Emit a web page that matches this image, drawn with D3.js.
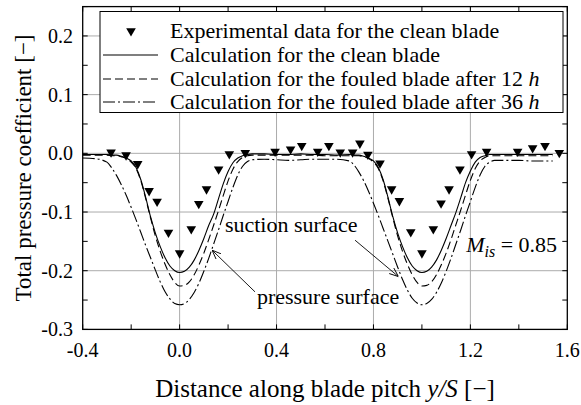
<!DOCTYPE html>
<html>
<head>
<meta charset="utf-8">
<script src="https://cdn.jsdelivr.net/npm/d3@7"></script>
<style>
  body { margin: 0; background: #fff; }
  svg text { font-family: "Liberation Serif", "Times New Roman", serif; fill: #000; }
  .grid { stroke: #ababab; stroke-width: 1; }
  .tick { stroke: #000; stroke-width: 1; }
  .frame { fill: none; stroke: #000; stroke-width: 1.3; }
  .curve { fill: none; stroke: #000; stroke-width: 1.1; }
</style>
</head>
<body>
<svg id="chart" width="581" height="405"></svg>
<script>
// tick values
var xTicks = [-0.4, 0.0, 0.4, 0.8, 1.2, 1.6];
var xMinor = [-0.4, -0.2, 0.0, 0.2, 0.4, 0.6, 0.8, 1.0, 1.2, 1.4, 1.6];
var yTicks = [-0.3, -0.2, -0.1, 0.0, 0.1, 0.2];
var yMinor = [-0.3, -0.25, -0.2, -0.15, -0.1, -0.05, 0.0, 0.05, 0.1, 0.15, 0.2, 0.25];

// experimental data, clean blade
var expX = [-0.283, -0.221, -0.173, -0.126, -0.093, -0.046, 0.000, 0.048, 0.079, 0.111, 0.161, 0.205, 0.271,
            0.394, 0.458, 0.504, 0.570, 0.616, 0.663, 0.714, 0.744, 0.777, 0.827, 0.875, 0.907, 0.954, 1.000,
            1.047, 1.079, 1.112, 1.157, 1.205, 1.267, 1.395, 1.457, 1.508, 1.567];
var expY = [0.002, -0.003, -0.018, -0.064, -0.082, -0.135, -0.170, -0.129, -0.086, -0.061, -0.027, -0.001, 0.001,
            0.003, 0.007, 0.013, 0.003, 0.013, 0.002, 0.002, 0.017, -0.002, -0.017, -0.061, -0.081, -0.134, -0.170,
            -0.129, -0.085, -0.061, -0.027, -0.001, 0.003, 0.003, 0.009, 0.013, 0.001];

// calculation, shared pitch positions
var calcX = [-0.40, -0.35, -0.30, -0.28, -0.26, -0.24, -0.22, -0.20, -0.18, -0.16, -0.14, -0.12, -0.10, -0.08,
             -0.06, -0.04, -0.02, 0.00, 0.02, 0.04, 0.06, 0.08, 0.10, 0.12, 0.14, 0.16, 0.18, 0.20, 0.22, 0.24,
             0.26, 0.28, 0.30, 0.35, 0.40, 0.45, 0.50, 0.55, 0.60, 0.65, 0.70, 0.72, 0.74, 0.76, 0.78, 0.80,
             0.82, 0.84, 0.86, 0.88, 0.90, 0.92, 0.94, 0.96, 0.98, 1.00, 1.02, 1.04, 1.06, 1.08, 1.10, 1.12,
             1.14, 1.16, 1.18, 1.20, 1.22, 1.24, 1.26, 1.28, 1.30, 1.35, 1.40, 1.45, 1.50, 1.54];
var cleanCalc = [-0.002, -0.002, -0.002, -0.003, -0.003, -0.005, -0.008, -0.013, -0.024, -0.045, -0.075, -0.108, -0.136, -0.159,
                 -0.178, -0.192, -0.200, -0.203, -0.201, -0.194, -0.182, -0.165, -0.145, -0.123, -0.104, -0.078, -0.052, -0.031, -0.016, -0.008,
                 -0.004, -0.002, -0.001, -0.001, -0.002, -0.002, -0.001, -0.002, -0.002, -0.003, -0.002, -0.003, -0.003, -0.005, -0.008, -0.013,
                 -0.024, -0.045, -0.075, -0.108, -0.136, -0.159, -0.178, -0.192, -0.200, -0.203, -0.201, -0.194, -0.182, -0.165, -0.145, -0.123,
                 -0.101, -0.076, -0.050, -0.030, -0.015, -0.007, -0.004, -0.002, -0.002, -0.002, -0.002, -0.002, -0.002, -0.002];
var fouled12 = [-0.003, -0.003, -0.003, -0.004, -0.004, -0.006, -0.009, -0.015, -0.026, -0.047, -0.077, -0.110, -0.141, -0.167,
                -0.189, -0.207, -0.220, -0.226, -0.225, -0.219, -0.207, -0.190, -0.170, -0.147, -0.123, -0.098, -0.072, -0.047, -0.027, -0.014,
                -0.007, -0.004, -0.003, -0.003, -0.003, -0.003, -0.003, -0.003, -0.004, -0.004, -0.004, -0.004, -0.004, -0.006, -0.009, -0.015,
                -0.026, -0.047, -0.077, -0.110, -0.141, -0.167, -0.189, -0.207, -0.220, -0.226, -0.225, -0.219, -0.207, -0.190, -0.170, -0.147,
                -0.122, -0.097, -0.071, -0.046, -0.026, -0.013, -0.007, -0.004, -0.004, -0.004, -0.004, -0.004, -0.004, -0.004];
var fouled36 = [-0.008, -0.009, -0.015, -0.025, -0.038, -0.054, -0.072, -0.092, -0.113, -0.135, -0.157, -0.178, -0.199, -0.219,
                -0.236, -0.248, -0.256, -0.258, -0.256, -0.249, -0.237, -0.221, -0.201, -0.179, -0.155, -0.131, -0.106, -0.082, -0.058, -0.037,
                -0.022, -0.014, -0.011, -0.010, -0.011, -0.012, -0.011, -0.010, -0.010, -0.010, -0.013, -0.020, -0.032, -0.047, -0.065, -0.085,
                -0.106, -0.128, -0.150, -0.172, -0.194, -0.215, -0.233, -0.247, -0.255, -0.258, -0.256, -0.249, -0.237, -0.221, -0.201, -0.179,
                -0.155, -0.131, -0.106, -0.082, -0.058, -0.037, -0.022, -0.015, -0.012, -0.012, -0.012, -0.013, -0.013, -0.013];

var legendLabels = ["Experimental data for the clean blade", "Calculation for the clean blade",
                    "Calculation for the fouled blade after 12 ", "Calculation for the fouled blade after 36 "];

var svg = d3.select("#chart");
var x = d3.scaleLinear().domain([-0.4, 1.6]).range([82.7, 567.3]);
var y = d3.scaleLinear().domain([-0.3, 0.25]).range([329.4, 6.6]);
var fmt = function(d){ return d3.format(".1f")(d).replace("\u2212", "-"); };

// grid
svg.append("g").selectAll("line").data(xTicks.slice(1, -1)).join("line")
  .attr("class", "grid")
  .attr("x1", function(d){ return x(d); }).attr("x2", function(d){ return x(d); })
  .attr("y1", y(0.25)).attr("y2", y(-0.3));
svg.append("g").selectAll("line").data(yTicks.slice(1)).join("line")
  .attr("class", "grid")
  .attr("y1", function(d){ return y(d); }).attr("y2", function(d){ return y(d); })
  .attr("x1", x(-0.4)).attr("x2", x(1.6));

// inner ticks on all four sides
var ticks = svg.append("g");
ticks.selectAll(".xb").data(xMinor).join("line").attr("class", "tick")
  .attr("x1", function(d){ return x(d); }).attr("x2", function(d){ return x(d); })
  .attr("y1", y(-0.3)).attr("y2", y(-0.3) - 5);
ticks.selectAll(".xt").data(xMinor).join("line").attr("class", "tick")
  .attr("x1", function(d){ return x(d); }).attr("x2", function(d){ return x(d); })
  .attr("y1", y(0.25)).attr("y2", y(0.25) + 5);
ticks.selectAll(".yl").data(yMinor).join("line").attr("class", "tick")
  .attr("y1", function(d){ return y(d); }).attr("y2", function(d){ return y(d); })
  .attr("x1", x(-0.4)).attr("x2", x(-0.4) + 5);
ticks.selectAll(".yr").data(yMinor).join("line").attr("class", "tick")
  .attr("y1", function(d){ return y(d); }).attr("y2", function(d){ return y(d); })
  .attr("x1", x(1.6)).attr("x2", x(1.6) - 5);

// curves
var line = function(vals){
  return d3.line().curve(d3.curveMonotoneX)
    .x(function(d, i){ return x(calcX[i]); })
    .y(function(d){ return y(d); })(vals);
};
svg.append("path").attr("class", "curve").attr("d", line(cleanCalc));
svg.append("path").attr("class", "curve").attr("d", line(fouled12)).attr("stroke-dasharray", "8,4");
svg.append("path").attr("class", "curve").attr("d", line(fouled36)).attr("stroke-dasharray", "12,3,2,3");

// experimental triangles
var tri = d3.symbol().type(d3.symbolTriangle).size(40);
svg.append("g").selectAll("path").data(expX).join("path")
  .attr("d", tri)
  .attr("transform", function(d, i){ return "translate(" + x(d) + "," + y(expY[i]) + ") rotate(180)"; })
  .attr("fill", "#000");

// frame
svg.append("rect").attr("class", "frame")
  .attr("x", x(-0.4)).attr("y", y(0.25))
  .attr("width", x(1.6) - x(-0.4)).attr("height", y(-0.3) - y(0.25));

// tick labels
svg.append("g").selectAll("text").data(xTicks).join("text")
  .attr("x", function(d){ return x(d); }).attr("y", 357)
  .attr("text-anchor", "middle").attr("font-size", 20)
  .text(fmt);
svg.append("g").selectAll("text").data(yTicks).join("text")
  .attr("x", 73).attr("y", function(d){ return y(d) + 7; })
  .attr("text-anchor", "end").attr("font-size", 20)
  .text(fmt);

// axis titles
var xt = svg.append("text").attr("x", 325).attr("y", 397).attr("text-anchor", "middle").attr("font-size", 25);
xt.append("tspan").text("Distance along blade pitch ");
xt.append("tspan").attr("font-style", "italic").text("y/S");
xt.append("tspan").text(" [\u2212]");
svg.append("text")
  .attr("transform", "translate(31," + ((y(0.25) + y(-0.3)) / 2) + ") rotate(-90)")
  .attr("text-anchor", "middle").attr("font-size", 23)
  .text("Total pressure coefficient [\u2212]");

// legend
var lg = svg.append("g");
lg.append("rect").attr("x", 100).attr("y", 11.5).attr("width", 463).attr("height", 101)
  .attr("fill", "#fff").attr("stroke", "#000").attr("stroke-width", 1);
var rowY = [31, 55, 79, 102];
lg.append("path").attr("d", tri).attr("fill", "#000")
  .attr("transform", "translate(131," + rowY[0] + ") rotate(180)");
var dashes = [null, "none", "8,4", "12,3,2,3"];
[1, 2, 3].forEach(function(i){
  lg.append("line").attr("class", "curve")
    .attr("x1", 103).attr("x2", 158).attr("y1", rowY[i]).attr("y2", rowY[i])
    .attr("stroke-dasharray", dashes[i]);
});
legendLabels.forEach(function(t, i){
  var tx = lg.append("text").attr("x", 170).attr("y", rowY[i] + 7).attr("font-size", 22);
  tx.append("tspan").text(t);
  if (i >= 2) tx.append("tspan").attr("font-style", "italic").text("h");
});

// annotations
var defs = svg.append("defs");
defs.append("marker").attr("id", "arr").attr("viewBox", "0 0 10 10")
  .attr("refX", 10).attr("refY", 5).attr("markerWidth", 9).attr("markerHeight", 9)
  .attr("markerUnits", "userSpaceOnUse").attr("orient", "auto")
  .append("path").attr("d", "M0,1 L10,5 L0,9").attr("fill", "none").attr("stroke", "#000");

svg.append("text").attr("x", x(0.187)).attr("y", y(-0.1336)).attr("font-size", 22).text("suction surface");
svg.append("text").attr("x", x(0.319)).attr("y", y(-0.257)).attr("font-size", 22).text("pressure surface");
svg.append("line").attr("x1", x(0.724)).attr("y1", y(-0.148)).attr("x2", x(0.903)).attr("y2", y(-0.210))
  .attr("stroke", "#000").attr("stroke-width", 0.9).attr("marker-end", "url(#arr)");
svg.append("line").attr("x1", x(0.311)).attr("y1", y(-0.236)).attr("x2", x(0.134)).attr("y2", y(-0.165))
  .attr("stroke", "#000").attr("stroke-width", 0.9).attr("marker-end", "url(#arr)");

var mt = svg.append("text").attr("x", x(1.558)).attr("y", y(-0.168)).attr("text-anchor", "end").attr("font-size", 22);
mt.append("tspan").attr("font-style", "italic").text("M");
mt.append("tspan").attr("font-style", "italic").attr("font-size", 16).attr("dy", 5).text("is");
mt.append("tspan").attr("dy", -5).text(" = 0.85");
</script>
</body>
</html>
